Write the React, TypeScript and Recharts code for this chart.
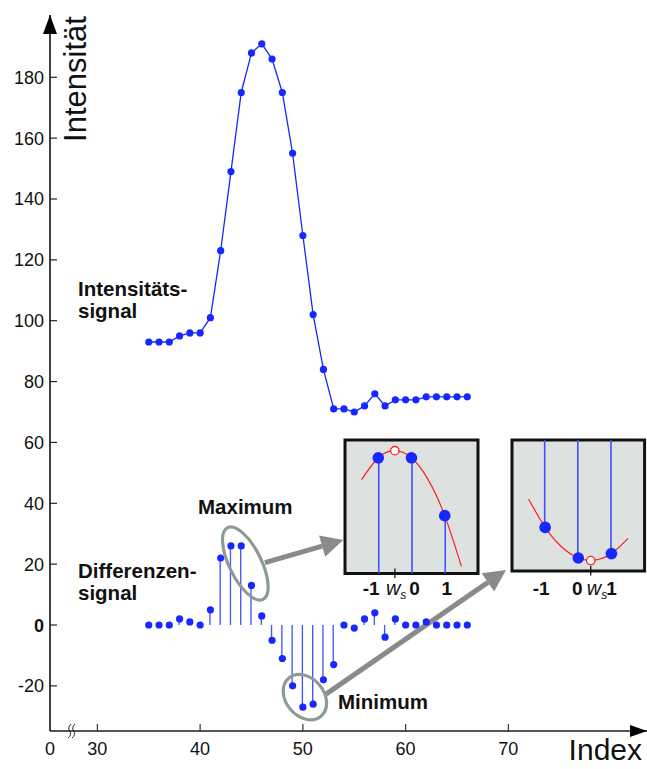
import React from 'react';
import {
  ComposedChart,
  Line,
  Bar,
  XAxis,
  YAxis,
  CartesianGrid,
  ReferenceDot,
  ReferenceLine,
  ReferenceArea,
} from 'recharts';

const FONT = '"Liberation Sans", Arial, Helvetica, sans-serif';
const BLUE = '#1628ff';
const STEM_BLUE = '#3f50ff';
const RED = '#ff1f1f';
const NOTE_GRAY = '#8a8a8a';
const RING_GRAY = '#8d9b97';
const BOX_FILL = '#dde2e1';

// sample index and the two signals
const INDEX = [
  35, 36, 37, 38, 39, 40, 41, 42, 43, 44, 45, 46, 47, 48, 49, 50,
  51, 52, 53, 54, 55, 56, 57, 58, 59, 60, 61, 62, 63, 64, 65, 66,
];
const INTENSITY = [
  93, 93, 93, 95, 96, 96, 101, 123, 149, 175, 188, 191, 186, 175, 155, 128,
  102, 84, 71, 71, 70, 72, 76, 72, 74, 74, 74, 75, 75, 75, 75, 75,
];
const DIFFERENCE = [
  0, 0, 0, 2, 1, 0, 5, 22, 26, 26, 13, 3, -5, -11, -20, -27,
  -26, -18, -13, 0, -1, 2, 4, -4, 2, 0, 0, 1, 0, 0, 0, 0,
];

const Y_TICKS = [-20, 0, 20, 40, 60, 80, 100, 120, 140, 160, 180];
const X_TICKS = [30, 40, 50, 60, 70];

// parabola fits around the extrema of the difference signal
const FIT_OFFSETS = [-1.5, -1, -0.5, 0, 0.5, 1, 1.5];
const SAMPLE_OFFSETS = [-1, 0, 1];
const MAX_SAMPLES = [26, 26, 13];
const MAX_FIT = [21.1, 26, 27.6, 26, 21.1, 13, 1.6];
const MAX_VERTEX = [-0.5, 27.6];
const MIN_SAMPLES = [-20, -27, -26];
const MIN_FIT = [-13.5, -20, -24.5, -27, -27.5, -26, -22.5];
const MIN_VERTEX = [0.375, -27.6];

// broken x axis: the left edge stands for 0
const X_MIN = 25.39;
const X_MAX = 83.49;
const Y_MIN = -34.83;
const Y_MAX = 200.46;
const X_BREAK = 27.5;

const rows = INDEX.map((idx, i) => ({ idx, intensity: INTENSITY[i], diff: DIFFERENCE[i] }));

function IntensityTick(props: any) {
  const { x, y, payload } = props;
  const v = payload.value;
  return (
    <g>
      <line x1={x} x2={x + 7} y1={y} y2={y} stroke="#222" strokeWidth={1.2} />
      <text
        x={x - 6}
        y={y + 6.5}
        textAnchor="end"
        fontFamily={FONT}
        fontSize={18}
        fontWeight={v === 0 ? 700 : 400}
        fill="#111"
      >
        {v}
      </text>
    </g>
  );
}

function IndexTick(props: any) {
  const { x, y, payload } = props;
  const origin = payload.value === X_MIN;
  return (
    <g>
      {!origin && <line x1={x} x2={x} y1={y - 7} y2={y} stroke="#333" strokeWidth={1.2} />}
      <text x={x} y={y + 23.5} textAnchor="middle" fontFamily={FONT} fontSize={18} fill="#111">
        {origin ? '0' : payload.value}
      </text>
    </g>
  );
}

const upArrowHead = (p: any) => (
  <polygon points={`${p.cx},${p.cy} ${p.cx - 7},${p.cy + 19} ${p.cx + 7},${p.cy + 19}`} fill="#000" />
);

const rightArrowHead = (p: any) => (
  <polygon points={`${p.cx},${p.cy} ${p.cx - 17},${p.cy - 6} ${p.cx - 17},${p.cy + 6}`} fill="#000" />
);

const axisBreak = (p: any) => {
  const wiggle = (x0: number) =>
    `M${x0 + 1.5},${p.cy - 7} Q${x0 - 2.5},${p.cy - 3.5} ${x0},${p.cy} Q${x0 + 2.5},${p.cy + 3.5} ${x0 - 1.5},${p.cy + 7}`;
  return (
    <g fill="none" stroke="#222" strokeWidth={1}>
      <path d={wiggle(p.cx - 2)} />
      <path d={wiggle(p.cx + 2)} />
    </g>
  );
};

const ring = (rx: number, ry: number, angle: number) => (p: any) => (
  <ellipse
    cx={p.cx}
    cy={p.cy}
    rx={rx}
    ry={ry}
    transform={`rotate(${angle} ${p.cx} ${p.cy})`}
    fill="none"
    stroke={RING_GRAY}
    strokeWidth={3.2}
  />
);

const pointer = (p: any) => {
  const { x1, y1, x2, y2 } = p;
  const a = Math.atan2(y2 - y1, x2 - x1);
  const len = 22;
  const half = 11;
  const bx = x2 - len * Math.cos(a);
  const by = y2 - len * Math.sin(a);
  const nx = -Math.sin(a) * half;
  const ny = Math.cos(a) * half;
  return (
    <g>
      <line x1={x1} y1={y1} x2={bx} y2={by} stroke={NOTE_GRAY} strokeWidth={5} />
      <polygon points={`${x2},${y2} ${bx + nx},${by + ny} ${bx - nx},${by - ny}`} fill={NOTE_GRAY} />
    </g>
  );
};

interface InsetProps {
  left: number;
  top: number;
  width: number;
  height: number;
  domain: [number, number];
  samples: number[];
  fit: number[];
  vertex: number[];
  yTicks: number[];
  tickSide: 'left' | 'right';
  labelDy: number;
  shift: { m1: number; z: number; p1: number; ws: number };
}

const PAD = 4;

function Inset({ left, top, width, height, domain, samples, fit, vertex, yTicks, tickSide, labelDy, shift }: InsetProps) {
  const data = FIT_OFFSETS.map((x, i) => {
    const j = SAMPLE_OFFSETS.indexOf(x);
    return { x, fit: fit[i], sample: j >= 0 ? samples[j] : null };
  });
  const ws = vertex[0];

  const offsetTick = (props: any) => {
    const { x, y, payload } = props;
    const v = payload.value;
    if (v === ws) {
      return (
        <g>
          <line x1={x} x2={x} y1={y - 5} y2={y + 4.5} stroke="#111" strokeWidth={1.3} />
          <text x={x + shift.ws} y={y + labelDy} fontFamily={FONT} fontSize={20} fontStyle="italic" fill="#111">
            w
            <tspan fontSize={12} dy={4}>
              s
            </tspan>
          </text>
        </g>
      );
    }
    const dx = v === -1 ? shift.m1 : v === 0 ? shift.z : shift.p1;
    return (
      <text x={x + dx} y={y + labelDy} textAnchor="middle" fontFamily={FONT} fontSize={19} fontWeight={700} fill="#111">
        {v}
      </text>
    );
  };

  const edgeTick = (props: any) => {
    const { x, y } = props;
    const x2 = tickSide === 'right' ? x - 4 : x + 4;
    return <line x1={x} x2={x2} y1={y} y2={y} stroke="#777" strokeWidth={1} />;
  };

  return (
    <div style={{ position: 'absolute', left: left - PAD, top: top - PAD }}>
      <ComposedChart
        width={width + 2 * PAD}
        height={height + PAD + 34}
        data={data}
        margin={{ top: PAD, right: PAD, left: PAD, bottom: 0 }}
      >
        <CartesianGrid fill={BOX_FILL} horizontal={false} vertical={false} />
        <XAxis
          dataKey="x"
          type="number"
          domain={[-2, 2]}
          allowDataOverflow
          ticks={[-1, ws, 0, 1]}
          interval={0}
          height={34}
          axisLine={false}
          tickLine={false}
          tickSize={0}
          tickMargin={0}
          tick={offsetTick}
        />
        <YAxis
          type="number"
          orientation={tickSide}
          domain={domain}
          allowDataOverflow
          ticks={yTicks}
          interval={0}
          width={0}
          axisLine={false}
          tickLine={false}
          tickSize={0}
          tickMargin={0}
          tick={edgeTick}
        />
        <Bar dataKey="sample" barSize={1.6} fill={STEM_BLUE} isAnimationActive={false} />
        <Line
          dataKey="fit"
          type="natural"
          stroke={RED}
          strokeWidth={1.2}
          dot={false}
          activeDot={false}
          isAnimationActive={false}
        />
        <Line
          dataKey="sample"
          stroke="none"
          dot={{ r: 5.8, fill: BLUE, stroke: 'none' }}
          activeDot={false}
          isAnimationActive={false}
        />
        <ReferenceArea x1={-2} x2={2} y1={domain[0]} y2={domain[1]} fill="none" stroke="#111" strokeWidth={3} ifOverflow="visible" />
        <ReferenceDot x={vertex[0]} y={vertex[1]} r={4.2} fill="#fff" stroke={RED} strokeWidth={1.3} ifOverflow="visible" />
      </ComposedChart>
    </div>
  );
}

const labelStyle = { fontFamily: FONT, fontSize: 20.5, fontWeight: 700, fill: '#111' };

export default function App() {
  return (
    <div style={{ position: 'absolute', left: 0, top: 0, width: 647, height: 769, background: '#fff' }}>
      <ComposedChart width={647} height={769} data={rows} margin={{ top: 15, right: 0, left: 0, bottom: 0 }}>
        <XAxis
          dataKey="idx"
          type="number"
          domain={[X_MIN, X_MAX]}
          allowDataOverflow
          ticks={[X_MIN, ...X_TICKS]}
          interval={0}
          height={38}
          axisLine={{ stroke: '#555', strokeWidth: 2 }}
          tickLine={false}
          tickSize={0}
          tickMargin={0}
          tick={IndexTick}
        />
        <YAxis
          type="number"
          domain={[Y_MIN, Y_MAX]}
          allowDataOverflow
          ticks={Y_TICKS}
          interval={0}
          width={50}
          axisLine={{ stroke: '#000', strokeWidth: 1.5 }}
          tickLine={false}
          tickSize={0}
          tickMargin={0}
          tick={IntensityTick}
        />
        <Bar dataKey="diff" barSize={1.3} fill={STEM_BLUE} isAnimationActive={false} />
        <Line
          dataKey="intensity"
          type="linear"
          stroke={BLUE}
          strokeWidth={1.3}
          dot={{ r: 3.6, fill: BLUE, stroke: 'none' }}
          activeDot={false}
          isAnimationActive={false}
        />
        <Line
          dataKey="diff"
          stroke="none"
          dot={{ r: 3.6, fill: BLUE, stroke: 'none' }}
          activeDot={false}
          isAnimationActive={false}
        />
        <ReferenceDot x={X_MIN} y={Y_MAX} r={1} shape={upArrowHead} ifOverflow="visible" />
        <ReferenceDot x={X_MAX} y={Y_MIN} r={1} shape={rightArrowHead} ifOverflow="visible" />
        <ReferenceDot x={X_BREAK} y={Y_MIN} r={1} shape={axisBreak} ifOverflow="visible" />
        <ReferenceDot x={44.4} y={20.2} r={1} shape={ring(40, 16, 63.7)} ifOverflow="visible" />
        <ReferenceDot x={50.2} y={-23.7} r={1} shape={ring(25, 19, 50)} ifOverflow="visible" />
        <ReferenceLine segment={[{ x: 46.31, y: 20.5 }, { x: 53.93, y: 27.9 }]} shape={pointer} ifOverflow="visible" />
        <ReferenceLine segment={[{ x: 52.25, y: -22.7 }, { x: 69.77, y: 18.1 }]} shape={pointer} ifOverflow="visible" />
      </ComposedChart>

      <Inset
        left={344.5}
        top={440}
        width={133}
        height={133.5}
        domain={[0, 30]}
        samples={MAX_SAMPLES}
        fit={MAX_FIT}
        vertex={MAX_VERTEX}
        yTicks={[5, 10, 15, 20, 25]}
        tickSide="right"
        labelDy={21.5}
        shift={{ m1: -7, z: 3, p1: 2, ws: -9 }}
      />
      <Inset
        left={512.2}
        top={440.4}
        width={132.6}
        height={131.1}
        domain={[-30, 0]}
        samples={MIN_SAMPLES}
        fit={MIN_FIT}
        vertex={MIN_VERTEX}
        yTicks={[-25, -20, -15, -10, -5]}
        tickSide="left"
        labelDy={23.5}
        shift={{ m1: -4, z: -1, p1: 0, ws: -4 }}
      />

      <svg width={647} height={769} style={{ position: 'absolute', left: 0, top: 0, pointerEvents: 'none' }}>
        <text x={86} y={79} transform="rotate(-90 86 79)" textAnchor="middle" fontFamily={FONT} fontSize={31} fill="#111">
          Intensität
        </text>
        <text x={642} y={760} textAnchor="end" fontFamily={FONT} fontSize={30} fill="#111">
          Index
        </text>
        <text x={78} y={296} {...labelStyle}>Intensitäts-</text>
        <text x={78} y={318} {...labelStyle}>signal</text>
        <text x={78} y={578} {...labelStyle}>Differenzen-</text>
        <text x={78} y={600} {...labelStyle}>signal</text>
        <text x={198} y={514} {...labelStyle}>Maximum</text>
        <text x={338} y={709} {...labelStyle}>Minimum</text>
      </svg>
    </div>
  );
}
